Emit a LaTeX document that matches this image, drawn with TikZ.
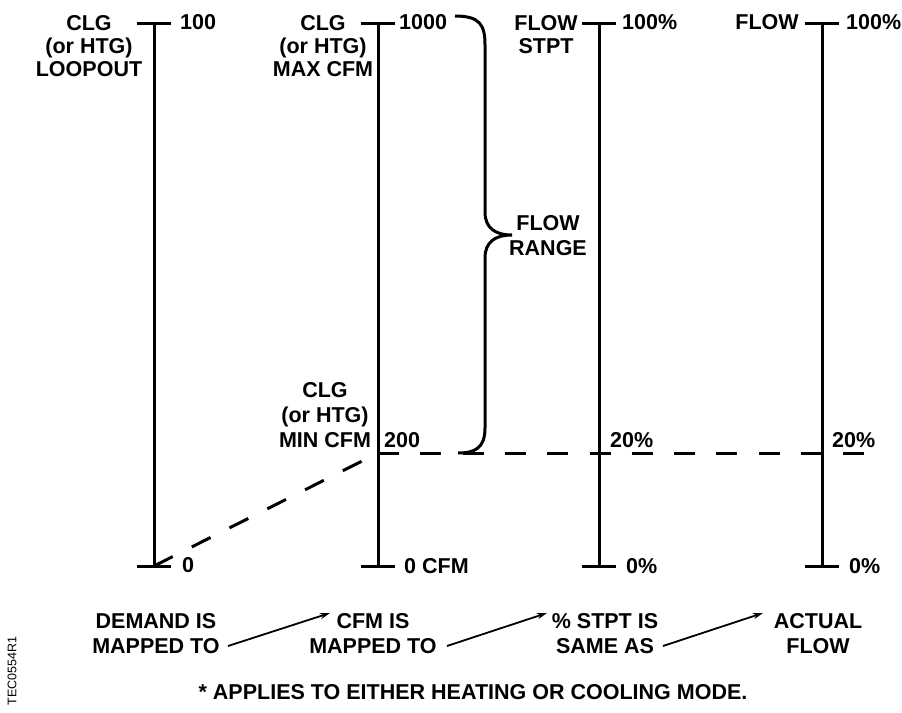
\documentclass[tikz,border=0pt]{standalone}
\usepackage{fontspec}
\setmainfont{Liberation Sans}
\usetikzlibrary{arrows.meta}
\begin{document}
\begin{tikzpicture}[x=1pt,y=-1pt,
  lbl/.style={font=\fontsize{21.5}{25}\selectfont\bfseries, inner sep=0pt},
  ml/.style={lbl, align=center, anchor=north},
  mltop/.style={ml, font=\fontsize{21.5}{23}\selectfont\bfseries},
  vl/.style={lbl, anchor=west},
  axisline/.style={line width=3pt},
  dashln/.style={line width=3pt, dash pattern=on 21pt off 21.3pt},
  bracestyle/.style={line width=3pt},
  maparrow/.style={line width=1.8pt, -{Stealth[length=10pt,width=6pt]}},
]
\useasboundingbox (0,0) rectangle (902,712);
% axis end points
\coordinate (a1t) at (154,23); \coordinate (a1b) at (154,566);
\coordinate (a2t) at (378,23); \coordinate (a2b) at (378,566);
\coordinate (a3t) at (599,23); \coordinate (a3b) at (599,566);
\coordinate (a4t) at (822,23); \coordinate (a4b) at (822,566);
\coordinate (m2) at (378,453);
\coordinate (dend) at (865,453);
% axes and ticks
\foreach \a in {a1,a2,a3,a4}{
  \draw[axisline] (\a t) -- (\a b);
  \draw[axisline] ([xshift=-17pt]\a t) -- ([xshift=17pt]\a t);
  \draw[axisline] ([xshift=-17pt]\a b) -- ([xshift=17pt]\a b);
}
% dashed mapping lines
\draw[dashln] (m2) -- (dend);
\draw[dashln] (a1b) -- (m2);
% brace
\draw[bracestyle] (455,16) .. controls (480,16) and (485,25) .. (485,45)
  -- (485,212) .. controls (485,228) and (495,235) .. (512,235)
  .. controls (495,235) and (485,242) .. (485,258)
  -- (485,428) .. controls (485,448) and (475,453) .. (458,453);
% top labels
\node[mltop] (l1) at (89,15) {CLG\\(or HTG)\\LOOPOUT};
\node[mltop] (l2) at (323,15) {CLG\\(or HTG)\\MAX CFM};
\node[mltop] (l3) at (546,15) {FLOW\\STPT};
\node[lbl] (l4) at (767,22) {FLOW};
\node[vl] (t1) at (180,22) {100};
\node[vl] (t2) at (399,22) {1000};
\node[vl] (t3) at (622,22) {100\%};
\node[vl] (t4) at (846,22) {100\%};
% middle labels
\node[ml] (mn) at (325,382) {CLG\\(or HTG)\\MIN CFM};
\node[vl] (m200) at (384,440) {200};
\node[vl] (m20a) at (610,440) {20\%};
\node[vl] (m20b) at (832,440) {20\%};
\node[ml] (fr) at (548,215) {FLOW\\RANGE};
% bottom values
\node[vl] (b1) at (182,565) {0};
\node[vl] (b2) at (404,566) {0 CFM};
\node[vl] (b3) at (626,566) {0\%};
\node[vl] (b4) at (849,566) {0\%};
% bottom captions
\node[ml] (c1) at (156,613) {DEMAND IS\\MAPPED TO};
\node[ml] (c2) at (373,613) {CFM IS\\MAPPED TO};
\node[ml] (c3) at (605,613) {\% STPT IS\\SAME AS};
\node[ml] (c4) at (818,613) {ACTUAL\\FLOW};
\coordinate (r1s) at (228,646); \coordinate (r1e) at (330,613);
\coordinate (r2s) at (447,646); \coordinate (r2e) at (547,613);
\coordinate (r3s) at (663,646); \coordinate (r3e) at (763,613);
\draw[maparrow] (r1s) -- (r1e);
\draw[maparrow] (r2s) -- (r2e);
\draw[maparrow] (r3s) -- (r3e);
% footnote and figure id
\node[lbl] (fn) at (473,692) {* APPLIES TO EITHER HEATING OR COOLING MODE.};
\node[inner sep=0pt, rotate=90, font=\fontsize{12.5}{15}\selectfont] (id) at (12,671) {TEC0554R1};
\end{tikzpicture}
\end{document}
